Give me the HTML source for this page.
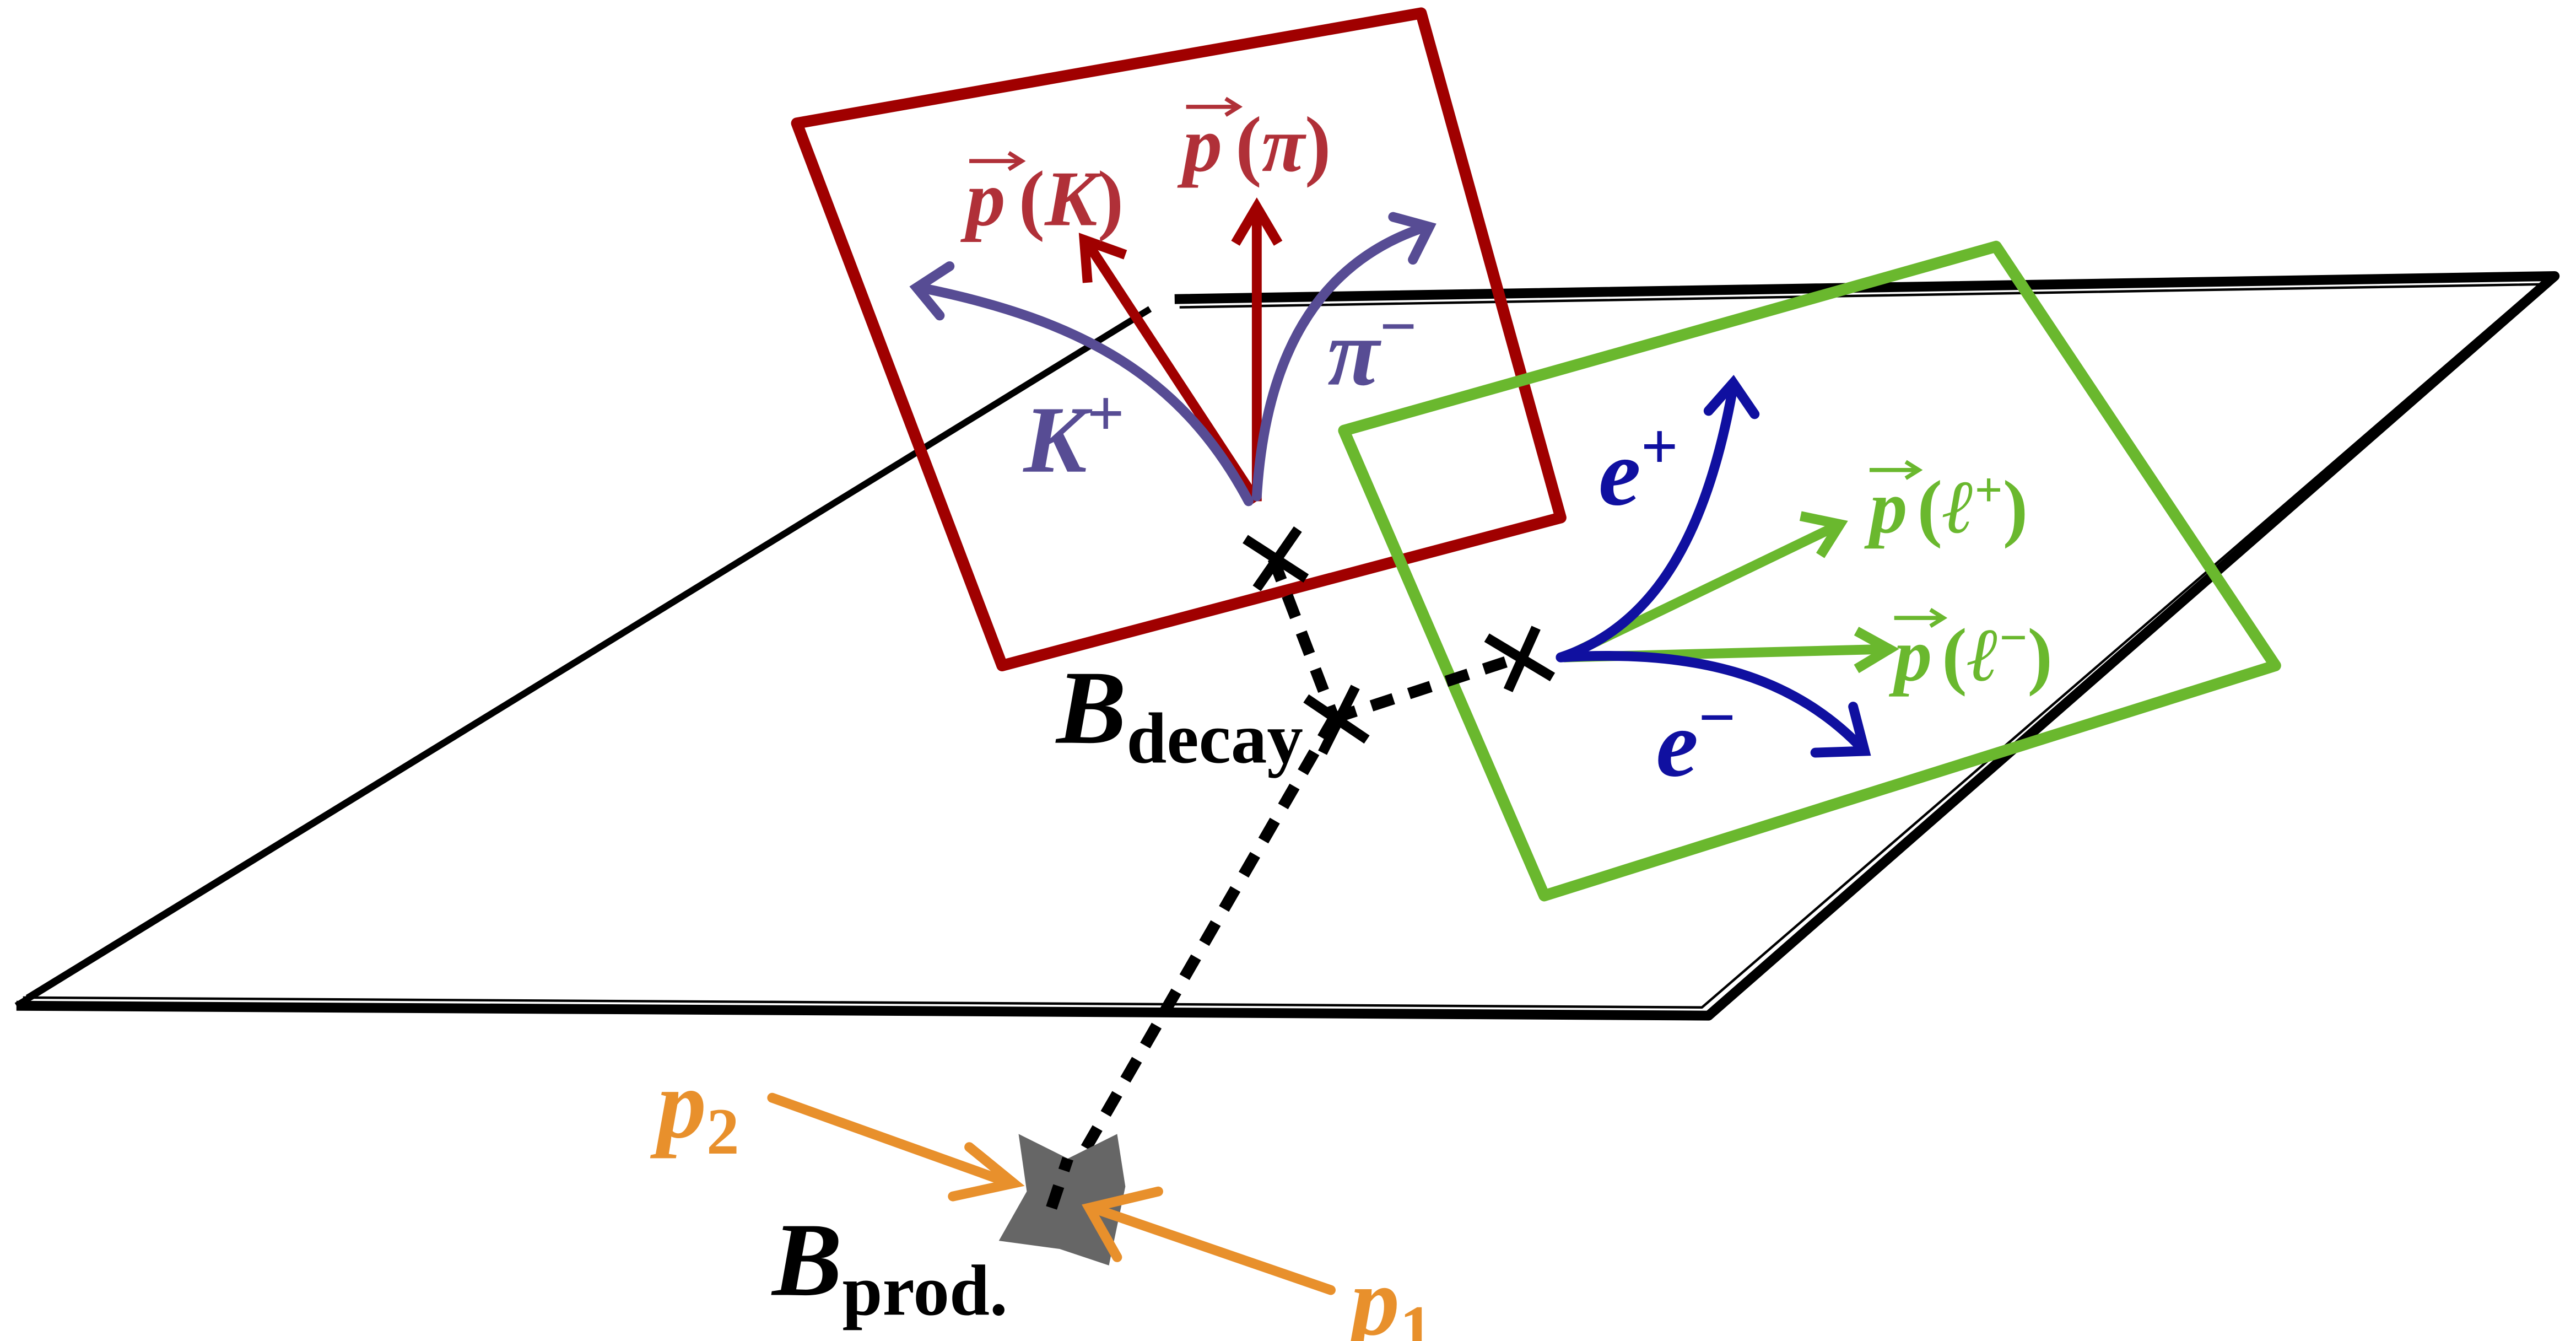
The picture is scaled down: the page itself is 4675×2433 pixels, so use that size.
<!DOCTYPE html>
<html><head><meta charset="utf-8"><style>
html,body{margin:0;padding:0;background:#fff;}
svg{display:block;}
text{font-family:"Liberation Serif","DejaVu Serif",serif;font-weight:bold;font-style:italic;}
.n{font-style:normal;}
</style></head><body>
<svg width="4675" height="2433" viewBox="0 0 1568 816" preserveAspectRatio="none" xmlns="http://www.w3.org/2000/svg">
<!-- plane -->
<g fill="none" stroke="#000" stroke-linejoin="round">
<path d="M10,612 L1040,618 L1555,168 L715,182" stroke-width="6"/>
<path d="M14,607 L1036,613 L1546,173 L718,187" stroke-width="1.5"/>
<path d="M10,612 L700,188" stroke-width="4"/>
<path d="M16,606 L692,192" stroke-width="1.2"/>
</g>
<path d="M485,75 L865,8 L950,315 L610,405 Z" fill="none" stroke="#a00000" stroke-width="7" stroke-linejoin="round"/>
<path d="M818,262 L1215,150 L1385,405 L940,545 Z" fill="none" stroke="#6ab82e" stroke-width="7" stroke-linejoin="round"/>
<!-- red arrows -->
<g stroke="#a00000" stroke-width="6" fill="none">
<path d="M765,305 L765,128"/><path d="M752,148 L765,126 L778,148"/>
<path d="M765,305 L662,148"/><path d="M662,172 L660,146 L685,155"/>
</g>
<text x="588" y="137" font-size="48" fill="#b03038">p<tspan class="n" dx="8">(</tspan>K<tspan class="n">)</tspan></text>
<text x="720" y="104" font-size="48" fill="#b03038">p<tspan class="n" dx="8">(</tspan>π<tspan class="n">)</tspan></text>
<path d="M590,98 h32 M614,93 l8,5 l-8,5" stroke="#b03038" stroke-width="2.5" fill="none"/>
<path d="M722,65 h32 M746,60 l8,5 l-8,5" stroke="#b03038" stroke-width="2.5" fill="none"/>
<!-- purple curves -->
<g stroke="#574c94" stroke-width="6" fill="none" stroke-linecap="round">
<path d="M760,305 C720,230 660,195 560,175"/><path d="M578,162 L558,175 L572,192"/>
<path d="M765,302 C770,220 800,160 868,138"/><path d="M848,132 L870,138 L860,158"/>
</g>
<text x="623" y="287" font-size="58" fill="#574c94">K<tspan class="n" font-size="40" dy="-22">+</tspan></text>
<text x="808" y="234" font-size="58" fill="#574c94">π<tspan class="n" font-size="40" dy="-22">−</tspan></text>
<!-- green arrows -->
<g stroke="#6ab82e" stroke-width="6" fill="none">
<path d="M952,400 L1118,320"/><path d="M1096,314 L1120,319 L1108,338"/>
<path d="M952,400 L1148,395"/><path d="M1130,384 L1150,395 L1130,407"/>
</g>
<text x="1138" y="324" font-size="46" fill="#6ab82e">p<tspan class="n" dx="6">(</tspan>ℓ<tspan class="n" font-size="30" dy="-16">+</tspan><tspan class="n" dy="16">)</tspan></text>
<text x="1153" y="414" font-size="46" fill="#6ab82e">p<tspan class="n" dx="6">(</tspan>ℓ<tspan class="n" font-size="30" dy="-16">−</tspan><tspan class="n" dy="16">)</tspan></text>
<path d="M1138,286 h30 M1160,281 l8,5 l-8,5" stroke="#6ab82e" stroke-width="2.5" fill="none"/>
<path d="M1153,376 h30 M1175,371 l8,5 l-8,5" stroke="#6ab82e" stroke-width="2.5" fill="none"/>
<!-- blue curves -->
<g stroke="#1010a0" stroke-width="6" fill="none" stroke-linecap="round">
<path d="M950,400 C1010,380 1040,320 1055,235"/><path d="M1040,250 L1055,233 L1068,252"/>
<path d="M950,400 C1030,395 1090,410 1133,455"/><path d="M1105,458 L1135,457 L1128,430"/>
</g>
<text x="973" y="307" font-size="58" fill="#1010a0">e<tspan class="n" font-size="40" dy="-22">+</tspan></text>
<text x="1008" y="472" font-size="58" fill="#1010a0">e<tspan class="n" font-size="40" dy="-22">−</tspan></text>
<!-- dashed lines -->
<g stroke="#000" stroke-width="7" fill="none" stroke-dasharray="14 10">
<path d="M775,340 L812,437"/><path d="M812,437 L925,400"/><path d="M812,437 L640,735"/>
</g>
<g stroke="#000" stroke-width="6">
<path d="M758,328 L795,352 M790,322 L765,358"/>
<path d="M795,425 L832,450 M825,418 L805,458"/>
<path d="M905,388 L945,412 M935,382 L918,420"/>
</g>
<path d="M620,690 L650,705 L680,690 L685,722 L675,770 L645,760 L608,755 L625,725 Z" fill="#666"/>
<path d="M640,735 L650,705" stroke="#000" stroke-width="7" stroke-dasharray="14 10"/>
<!-- orange arrows -->
<g stroke="#e8902c" stroke-width="6" fill="none" stroke-linecap="round">
<path d="M470,668 L615,720"/><path d="M590,698 L617,720 L580,728"/>
<path d="M810,785 L665,735"/><path d="M680,765 L663,735 L705,725"/>
</g>
<text x="400" y="692" font-size="60" fill="#e8902c">p<tspan class="n" font-size="40" dy="10">2</tspan></text>
<text x="822" y="812" font-size="60" fill="#e8902c">p<tspan class="n" font-size="40" dy="10">1</tspan></text>
<text x="643" y="452" font-size="64" fill="#000">B<tspan class="n" font-size="44" dy="12">decay</tspan></text>
<text x="470" y="788" font-size="64" fill="#000">B<tspan class="n" font-size="44" dy="12">prod.</tspan></text>
</svg>
</body></html>
